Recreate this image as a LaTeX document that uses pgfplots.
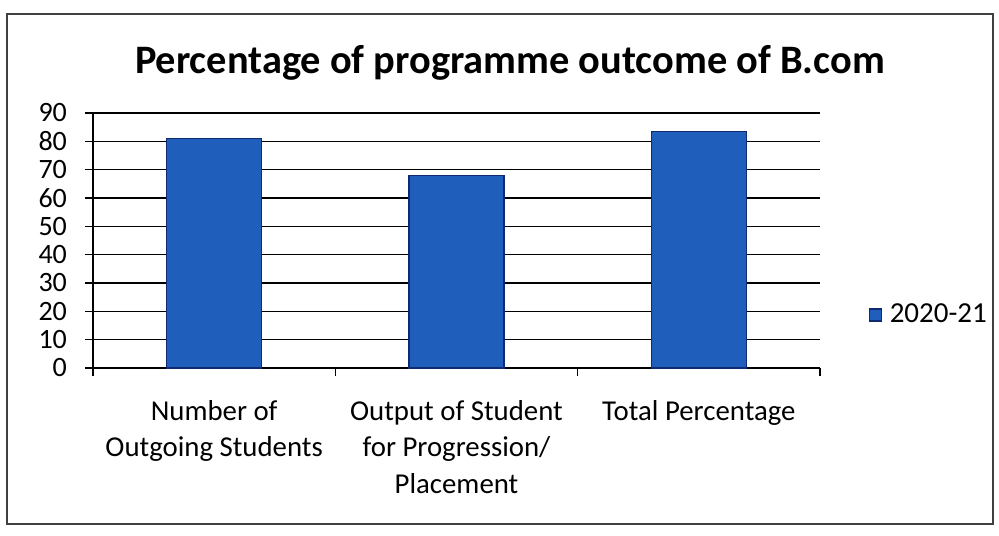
\documentclass[border=0pt]{standalone}
\usepackage{pgfplots}
\pgfplotsset{compat=1.18}
\usepackage{fontspec}
\setmainfont{Carlito}
\definecolor{barblue}{RGB}{32,94,188}
\definecolor{baredge}{RGB}{14,42,115}
\begin{document}
\begin{tikzpicture}
\path[fill=white] (0,0) rectangle (499.5pt,267.5pt);
\draw[black!75, line width=0.7pt] (3.5pt,5.5pt) rectangle (496.5pt,260.5pt);
\node[font=\fontsize{20.2}{24}\selectfont\bfseries] at (255pt,236pt) {Percentage of programme outcome of B.com};
\begin{axis}[
  at={(46.5pt,83.5pt)}, anchor=south west,
  width=363.5pt, height=127.5pt, scale only axis,
  xmin=-0.5, xmax=2.5, ymin=0, ymax=90,
  ytick={0,10,...,90},
  xtick={0,1,2},
  xticklabels={{Number of\\Outgoing Students},{Output of Student\\for Progression/\\Placement},{Total Percentage}},
  minor xtick={-0.5,0.5,1.5,2.5},
  major x tick style={draw=none},
  minor tick length=4pt,
  major tick length=4pt,
  tick align=outside,
  axis x line*=bottom, axis y line*=left,
  axis line style={black, line width=0.8pt, -},
  every tick/.style={black, line width=0.8pt},
  ymajorgrids, grid style={black, line width=0.8pt},
  xticklabel style={font=\fontsize{14.4}{18.3}\selectfont, align=center, anchor=north, yshift=-8.5pt},
  yticklabel style={font=\fontsize{14}{16}\selectfont, xshift=-5.5pt},
  /pgf/number format/assume math mode=true,
  ybar, bar width=47.5pt,
  legend style={at={(1.058,0.208)}, anchor=west, draw=none, fill=none, font=\fontsize{14.5}{17}\selectfont},
  legend image code/.code={\draw[fill=barblue, draw=baredge, line width=0.6pt] (0pt,-3pt) rectangle (6pt,3pt);},
  legend cell align=left,
  clip=false,
]
\addplot[fill=barblue, draw=baredge, line width=0.8pt] coordinates {(0,81) (1,68) (2,83.5)};
\addlegendentry{\hspace{2pt}2020-21}
\end{axis}
\end{tikzpicture}
\end{document}
